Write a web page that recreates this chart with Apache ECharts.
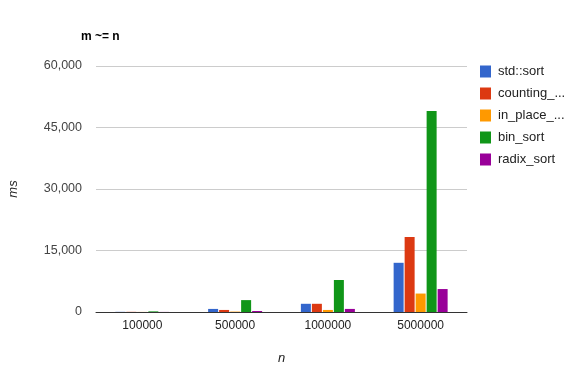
<!DOCTYPE html>
<html>
<head>
<meta charset="utf-8">
<script src="https://cdn.jsdelivr.net/npm/echarts@6/dist/echarts.min.js"></script>
<style>html,body{margin:0;padding:0;background:#fff;}#c{width:577px;height:372px;}</style>
</head>
<body>
<div id="c"></div>
<script>
const categories = ['100000', '500000', '1000000', '5000000'];
const seriesNames = ['std::sort', 'counting_...', 'in_place_...', 'bin_sort', 'radix_sort'];
const stdSort = [40, 750, 2000, 12000];
const countingSort = [40, 500, 2000, 18300];
const inPlaceSort = [20, 100, 500, 4500];
const binSort = [150, 2900, 7800, 49000];
const radixSort = [20, 250, 750, 5600];
const yTicks = [0, 15000, 30000, 45000, 60000];
const colors = ['#3366cc', '#dc3912', '#ff9900', '#109618', '#990099'];

const values = [stdSort, countingSort, inPlaceSort, binSort, radixSort];
const font = 'Arial, "Liberation Sans", sans-serif';
const chart = echarts.init(document.getElementById('c'));
chart.setOption({
  animation: false,
  color: colors,
  textStyle: { fontFamily: font },
  title: {
    text: 'm ~= n', left: 76, top: 26,
    textStyle: { fontFamily: font, fontSize: 12, fontWeight: 'bold', color: '#000' }
  },
  legend: {
    orient: 'vertical', left: 475, top: 60,
    itemWidth: 11, itemHeight: 12, itemGap: 9,
    icon: 'rect',
    textStyle: { fontFamily: font, fontSize: 13, color: '#222', padding: [0, 0, 0, 2] },
    data: seriesNames
  },
  grid: { left: 96, right: 110, top: 66, bottom: 60, outerBoundsMode: 'none', containLabel: false },
  xAxis: {
    type: 'category', data: categories,
    name: 'n', nameLocation: 'middle', nameGap: 40,
    nameTextStyle: { fontFamily: font, fontSize: 13, fontStyle: 'italic', color: '#222' },
    axisLine: { lineStyle: { color: '#333', width: 1 } },
    axisTick: { show: false },
    axisLabel: { fontFamily: font, fontSize: 12, color: '#222', margin: 8 }
  },
  yAxis: {
    type: 'value', min: yTicks[0], max: yTicks[yTicks.length - 1], interval: 15000,
    name: 'ms', nameLocation: 'middle', nameGap: 76, nameRotate: 90,
    nameTextStyle: { fontFamily: font, fontSize: 13, fontStyle: 'italic', color: '#222' },
    axisLine: { show: false }, axisTick: { show: false },
    splitLine: { lineStyle: { color: '#cccccc' } },
    axisLabel: {
      fontFamily: font, fontSize: 12.5, color: '#444', margin: 14,
      formatter: v => v.toLocaleString('en-US')
    }
  },
  series: seriesNames.map((n, i) => ({
    name: n, type: 'bar', data: values[i],
    barWidth: 10, barGap: '10%'
  }))
});
</script>
</body>
</html>
